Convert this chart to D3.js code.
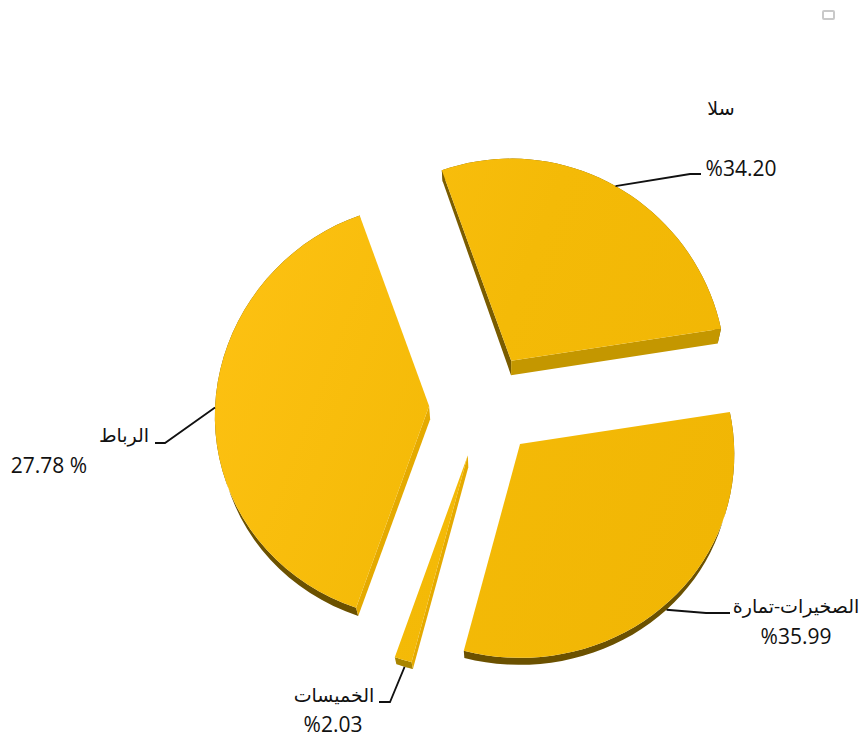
<!DOCTYPE html>
<html>
<head>
<meta charset="utf-8">
<script src="https://cdnjs.cloudflare.com/ajax/libs/d3/7.8.5/d3.min.js"></script>
<style>
body { margin: 0; background: #fff; }
text { font-family: "Open Sans", "DejaVu Sans", sans-serif; fill: #111; }
text.name { font-size: 19px; }
text.value { font-size: 21px; }
</style>
</head>
<body>
<script>
// order follows the pie, clockwise from the top
var categories = ["سلا", "الصخيرات-تمارة", "الخميسات", "الرباط"];
var printedValues = ["%34.20", "%35.99", "%2.03", "27.78 %"];
// share of the circle each slice really takes up in the picture
// (the printed percentages above do not match the slice sizes)
var sliceShares = [28.06, 31.5, 1.25, 39.19];

var w = 860, h = 740;
var cx = 483.5, cy = 405.5;
var rotation = -19.9 * Math.PI / 180;

var svg = d3.select("body").append("svg")
	.attr("width", w)
	.attr("height", h)
	.style("display", "block");

var grad = svg.append("defs").append("linearGradient")
	.attr("id", "face")
	.attr("gradientUnits", "userSpaceOnUse")
	.attr("x1", 216).attr("y1", 300)
	.attr("x2", 737).attr("y2", 500);
grad.append("stop").attr("offset", 0).attr("stop-color", "#fdc112");
grad.append("stop").attr("offset", 0.5).attr("stop-color", "#f4ba07");
grad.append("stop").attr("offset", 1).attr("stop-color", "#f1b604");

var pie = d3.pie().sort(null)
	.startAngle(rotation)
	.endAngle(rotation + 2 * Math.PI);
var slices = pie(sliceShares);

// unit circle -> pixels, slightly bigger towards the viewer
var rx = d3.scaleLinear().domain([-1, 1]).range([-214, 214]);
var ry = d3.scaleLinear().domain([-1, 1]).range([-208, 208]);
var explodeX = d3.scaleLinear().domain([-1, 1]).range([-54.4, 54.4]);
var explodeY = d3.scaleLinear().domain([-1, 1]).range([-52, 52]);
// thickness of the wall depends on how far down the page it is
var depth = d3.scaleLinear().domain([172, 340, 656]).range([11, 15, 7]).clamp(true);

function apex(s) {
	var m = (s.startAngle + s.endAngle) / 2;
	return [cx + explodeX(Math.sin(m)), cy - explodeY(Math.cos(m))];
}
function rim(s, a) {
	var c = apex(s), k = Math.cos(a);
	return [c[0] + (1 - 0.05 * k) * rx(Math.sin(a)), c[1] - (1 - 0.028 * k) * ry(k)];
}
function lower(pt) {
	return [pt[0] + (500 - pt[0]) * 0.015, pt[1] + depth(pt[1])];
}
function arcPoints(s) {
	return d3.range(0, 41).map(function(i) {
		return rim(s, s.startAngle + (s.endAngle - s.startAngle) * i / 40);
	});
}

var line = d3.line();
function closed(pts) { return line(pts) + "Z"; }

// colours of the visible side walls per slice, null where the face hides it
var startWall = ["#7a5c00", null, "#e5aa00", "#e5aa00"];
var endWall = ["#c49700", null, null, null];
var arcWall = ["#7a5c00", "#6b5100", "#a98500", "#6b5100"];

var pieG = svg.append("g");
slices.forEach(function(s, i) {
	var c = apex(s), rimPts = arcPoints(s);
	var g = pieG.append("g");
	var a0 = rimPts[0], a1 = rimPts[rimPts.length - 1];

	g.append("path")
		.attr("d", closed(rimPts.concat(rimPts.map(lower).reverse())))
		.attr("fill", arcWall[i]);
	if (startWall[i]) {
		g.append("path")
			.attr("d", closed([c, a0, lower(a0), lower(c)]))
			.attr("fill", startWall[i]);
	}
	if (endWall[i]) {
		g.append("path")
			.attr("d", closed([c, a1, lower(a1), lower(c)]))
			.attr("fill", endWall[i]);
	}
	g.append("path")
		.attr("d", closed([c].concat(rimPts)))
		.attr("fill", "url(#face)");
});

// leader elbows and label anchors, in slice order
var elbows = [
	[[690, 174], [701, 174]],
	[[706, 613], [730, 613]],
	[[390, 702], [379, 702]],
	[[165, 443], [155, 443]]
];
var nameAt = [[721, 115], [796, 613], [334, 702], [124, 442]];
var valueAt = [[741, 176], [796, 644], [333, 732], [49, 473]];

slices.forEach(function(s, i) {
	var m = (s.startAngle + s.endAngle) / 2;
	var start = rim(s, m);
	// these two leaders start on the wall, not on the top face
	if (i == 1 || i == 2) start = lower(start);
	svg.append("path")
		.attr("d", line([start].concat(elbows[i])))
		.attr("fill", "none")
		.attr("stroke", "#111")
		.attr("stroke-width", 1.8);
	svg.append("text")
		.attr("class", "name")
		.attr("x", nameAt[i][0]).attr("y", nameAt[i][1])
		.attr("text-anchor", "middle")
		.text(categories[i]);
	svg.append("text")
		.attr("class", "value")
		.attr("x", valueAt[i][0]).attr("y", valueAt[i][1])
		.attr("text-anchor", "middle")
		.text(printedValues[i]);
});

// little empty box top right
svg.append("rect")
	.attr("x", 823).attr("y", 11)
	.attr("width", 11).attr("height", 8)
	.attr("rx", 1)
	.attr("fill", "#fff")
	.attr("stroke", "#c9c9c9")
	.attr("stroke-width", 2);
</script>
</body>
</html>
